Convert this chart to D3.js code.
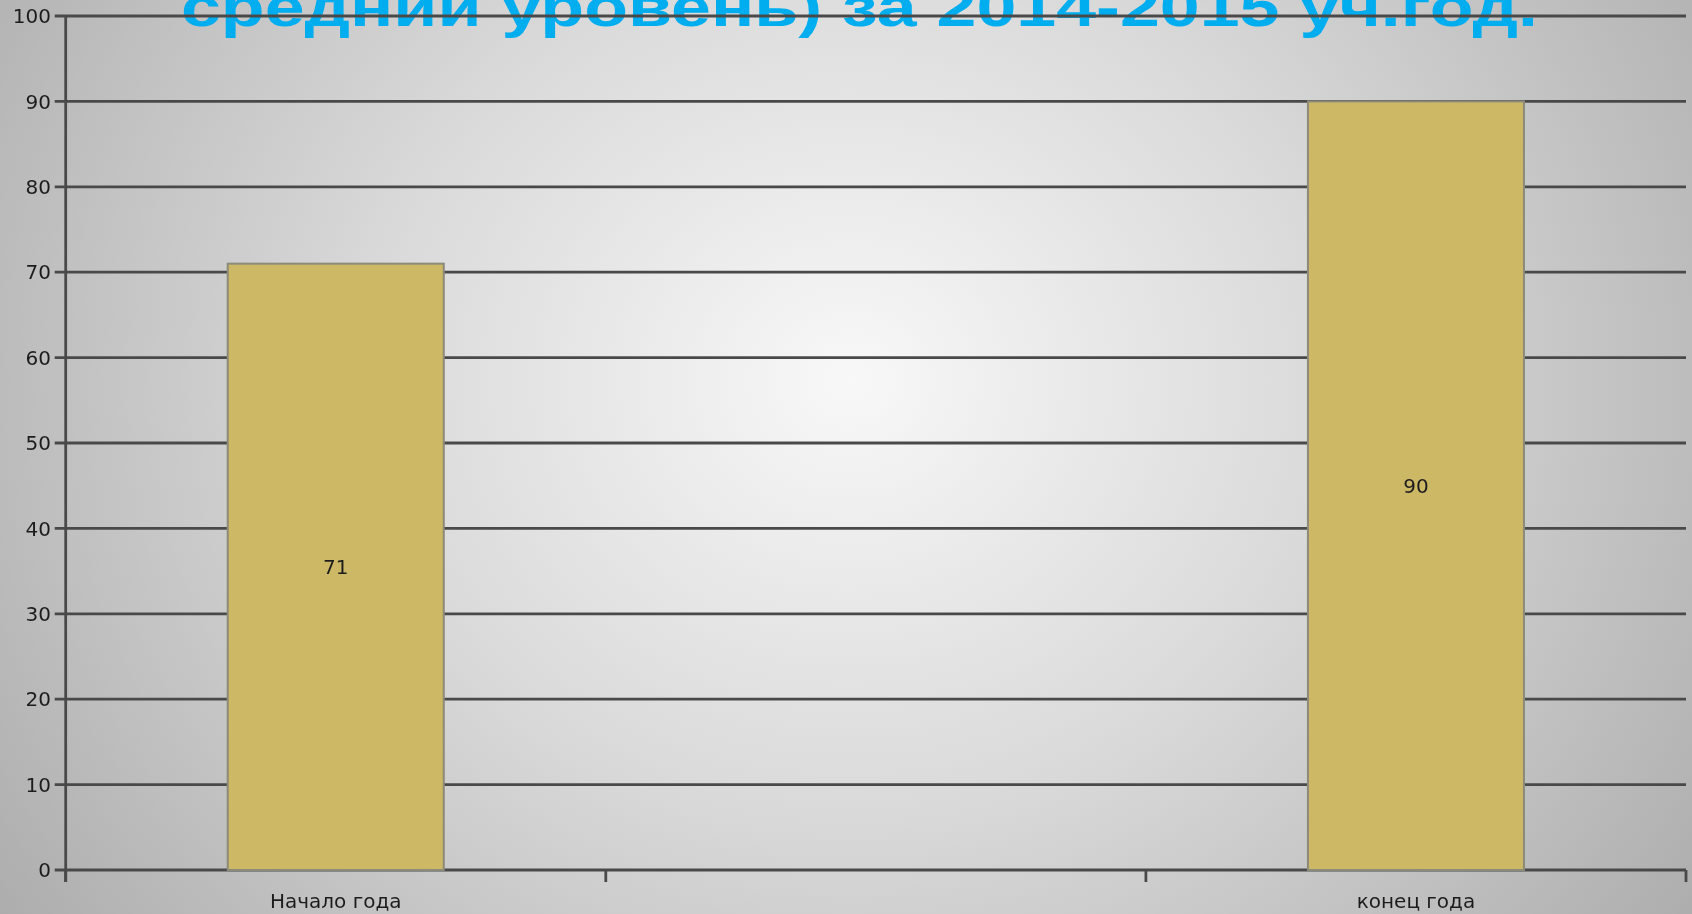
<!DOCTYPE html>
<html><head><meta charset="utf-8">
<script src="https://cdn.jsdelivr.net/npm/d3@7"></script>
<style>html,body{margin:0;padding:0;overflow:hidden;background:#ccc}</style>
</head><body>
<svg id="c" width="1692" height="914"></svg>
<script>
const categories = ["Начало года", "", "конец года"];
const values = [71, null, 90];
const yTicks = [0, 10, 20, 30, 40, 50, 60, 70, 80, 90, 100];
const titleText = "средний уровень) за 2014-2015 уч.год.";

const W = 1692, H = 914;
const m = {left: 65.7, right: 1686, top: 16, bottom: 870};
const svg = d3.select("#c");
const defs = svg.append("defs");
const rg = defs.append("radialGradient").attr("id", "bg")
  .attr("gradientUnits", "userSpaceOnUse")
  .attr("cx", 850).attr("cy", 380).attr("r", 1050)
  .attr("gradientTransform", "translate(850,380) scale(1,0.9) translate(-850,-380)");
rg.append("stop").attr("offset", "0").attr("stop-color", "#f8f8f8");
rg.append("stop").attr("offset", "0.45").attr("stop-color", "#dadada");
rg.append("stop").attr("offset", "1").attr("stop-color", "#acacac");
const blur = defs.append("filter").attr("id", "soft");
blur.append("feGaussianBlur").attr("stdDeviation", 0.6);

svg.append("rect").attr("width", W).attr("height", H).attr("fill", "url(#bg)");

svg.append("text").attr("x", 181).attr("y", 26)
  .attr("textLength", 1357).attr("lengthAdjust", "spacingAndGlyphs")
  .attr("font-family", "Liberation Sans, Arial, sans-serif")
  .attr("font-weight", "bold").attr("font-size", 56)
  .attr("fill", "#00aeef").text(titleText);

const x = d3.scaleBand().domain(categories).range([m.left, m.right])
  .paddingInner(0.6).paddingOuter(0.3);
const y = d3.scaleLinear().domain([0, 100]).range([m.bottom, m.top]);

const g = svg.append("g").attr("filter", "url(#soft)");
g.selectAll("line.grid").data(yTicks).join("line")
  .attr("x1", m.left - 11).attr("x2", m.right)
  .attr("y1", d => y(d)).attr("y2", d => y(d))
  .attr("stroke", "#4a4a4a").attr("stroke-width", 2.8);
g.append("line").attr("x1", m.left).attr("x2", m.left)
  .attr("y1", y(100)).attr("y2", m.bottom + 12)
  .attr("stroke", "#4a4a4a").attr("stroke-width", 2.8);
const step = x.step();
const bounds = d3.range(categories.length + 1).map(i => m.left + i * step);
g.selectAll("line.xt").data(bounds).join("line")
  .attr("x1", d => d).attr("x2", d => d)
  .attr("y1", m.bottom).attr("y2", m.bottom + 12)
  .attr("stroke", "#4a4a4a").attr("stroke-width", 2.8);

const data = categories.map((c, i) => ({c, v: values[i]})).filter(d => d.v != null);
svg.selectAll("rect.bar").data(data).join("rect")
  .attr("x", d => x(d.c)).attr("width", x.bandwidth())
  .attr("y", d => y(d.v)).attr("height", d => y(0) - y(d.v))
  .attr("fill", "#cdb866").attr("stroke", "#8c8a78").attr("stroke-width", 2);

const lab = svg.append("g").attr("filter", "url(#soft)");
lab.selectAll("text.yl").data(yTicks).join("text")
  .attr("x", 51).attr("y", d => y(d)).attr("dy", "0.36em")
  .attr("text-anchor", "end")
  .attr("font-family", "DejaVu Sans, Verdana, sans-serif").attr("font-size", 20)
  .attr("fill", "#1e1e1e").text(d => d);

lab.selectAll("text.vl").data(data).join("text")
  .attr("x", d => x(d.c) + x.bandwidth() / 2)
  .attr("y", d => y(d.v / 2)).attr("dy", "0.36em")
  .attr("text-anchor", "middle")
  .attr("font-family", "DejaVu Sans, Verdana, sans-serif").attr("font-size", 20)
  .attr("fill", "#1e1e1e").text(d => d.v);

lab.selectAll("text.cl").data(categories.filter(c => c !== "")).join("text")
  .attr("x", d => x(d) + x.bandwidth() / 2).attr("y", 908)
  .attr("text-anchor", "middle")
  .attr("font-family", "DejaVu Sans, Verdana, sans-serif").attr("font-size", 20)
  .attr("fill", "#1e1e1e").text(d => d);
</script>
</body></html>
